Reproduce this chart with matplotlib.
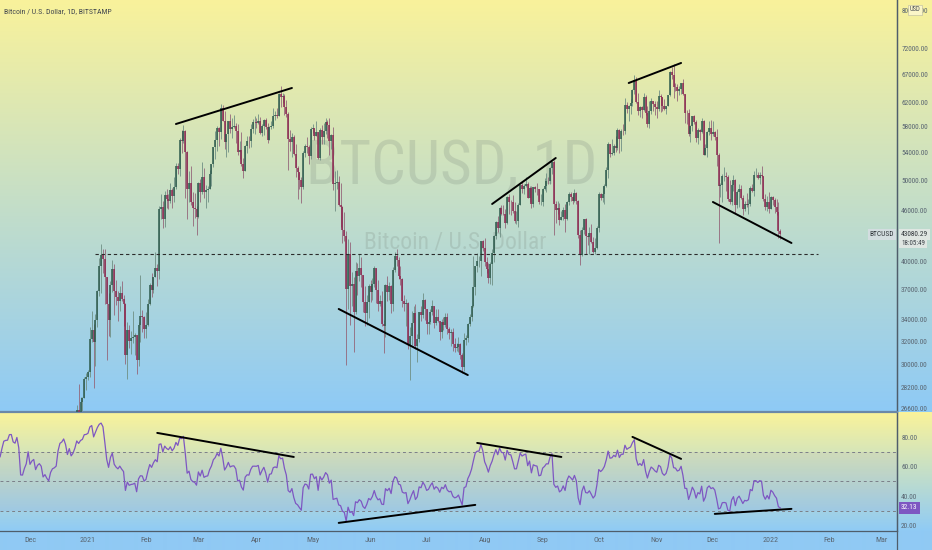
import numpy as np
import pandas as pd
import matplotlib
matplotlib.use('Agg')
import matplotlib.pyplot as plt
import matplotlib.dates as mdates
from matplotlib import font_manager
from matplotlib.colors import to_rgb

# daily closes in USD thousands, 2020-10-15 .. 2022-01-06
close_k = [
    # Oct 2020 (15th on)
    11.50, 11.32, 11.36, 11.50, 11.75, 11.92, 12.82, 12.98, 12.93, 13.11, 13.03, 13.07, 13.65, 13.28, 13.46, 13.56, 13.80,
    # Nov 2020
    13.76, 13.55, 14.02, 14.15, 15.59, 15.58, 14.84, 15.48, 15.33, 15.31, 15.70, 16.28, 16.32, 16.07, 15.96,
    16.73, 17.66, 17.78, 17.81, 18.68, 18.71, 18.42, 18.37, 19.16, 18.72, 17.15, 17.14, 17.72, 18.18, 19.70,
    # Dec 2020
    18.79, 19.22, 19.43, 18.65, 19.15, 19.36, 19.17, 18.32, 18.55, 18.25, 18.04, 18.80, 19.17, 19.27, 19.44,
    21.38, 22.83, 23.13, 23.86, 23.48, 22.74, 23.83, 23.24, 23.73, 24.71, 26.49, 26.28, 27.08, 27.39, 28.88, 28.99,
    # Jan 2021
    29.37, 32.19, 33.00, 31.99, 33.99, 36.82, 39.48, 40.67, 40.24, 38.24, 35.54, 34.01, 37.39, 39.15, 36.83,
    36.18, 35.79, 36.63, 36.02, 35.53, 30.83, 33.00, 32.08, 32.28, 32.37, 32.57, 30.43, 33.46, 34.32, 34.27, 33.11,
    # Feb 2021
    33.52, 35.51, 37.47, 36.92, 38.29, 39.26, 38.90, 46.20, 46.48, 44.92, 47.97, 47.50, 47.27, 48.68,
    47.95, 49.15, 52.12, 51.59, 55.90, 55.84, 57.41, 54.09, 48.89, 49.68, 47.06, 46.34, 46.16, 45.24,
    # Mar 2021
    49.61, 48.38, 50.54, 48.37, 48.75, 48.88, 50.97, 52.38, 54.88, 55.87, 57.80, 57.23, 61.19, 59.01, 55.61,
    56.90, 58.91, 57.65, 58.03, 58.10, 57.35, 54.08, 54.34, 52.30, 51.30, 55.07, 55.86, 55.78, 57.63, 58.73, 58.74,
    # Apr 2021
    58.72, 58.97, 57.06, 58.20, 59.13, 57.99, 56.00, 57.97, 58.10, 59.77, 59.98, 59.84, 63.50, 62.96, 63.20,
    61.38, 60.05, 56.15, 55.66, 56.47, 53.80, 51.70, 51.18, 50.10, 49.06, 54.02, 55.03, 54.82, 53.57, 57.75,
    # May 2021
    57.82, 56.61, 57.20, 53.24, 57.48, 56.40, 57.35, 58.87, 58.28, 55.86, 56.75, 49.50, 49.69, 49.84, 46.76,
    46.43, 43.54, 42.91, 37.00, 40.74, 37.28, 37.53, 34.77, 38.87, 38.35, 39.28, 38.49, 35.69, 34.61, 35.68, 37.30,
    # Jun 2021
    36.69, 37.57, 39.19, 36.88, 35.53, 35.80, 33.55, 33.40, 37.39, 36.69, 37.34, 35.55, 39.02, 40.53, 40.14,
    38.35, 38.09, 35.82, 35.48, 35.60, 31.68, 32.51, 33.69, 34.66, 31.61, 32.24, 34.70, 34.45, 35.87, 35.04,
    # Jul 2021
    33.57, 33.80, 34.68, 35.29, 33.69, 34.22, 33.86, 32.88, 33.82, 33.52, 34.24, 33.12, 32.73, 32.82, 31.78,
    31.42, 31.52, 31.78, 30.84, 29.79, 32.14, 32.29, 33.60, 34.29, 35.35, 37.27, 39.46, 40.02, 40.03, 42.23, 41.46,
    # Aug 2021
    39.85, 39.15, 38.19, 39.72, 40.87, 42.83, 44.61, 43.82, 46.29, 45.60, 45.56, 44.43, 47.82, 47.10, 47.05,
    45.99, 44.69, 44.71, 46.76, 49.34, 48.87, 49.28, 49.51, 47.70, 48.97, 46.84, 49.07, 48.90, 48.83, 47.05, 47.17,
    # Sep 2021
    48.85, 49.28, 49.94, 49.92, 51.77, 52.66, 46.87, 46.08, 46.37, 44.85, 45.16, 46.06, 44.96, 47.10, 48.14,
    47.76, 47.30, 48.30, 47.25, 42.96, 40.64, 43.59, 44.88, 42.84, 42.72, 43.21, 42.19, 41.03, 41.52, 43.80,
    # Oct 2021
    48.14, 47.65, 48.23, 49.25, 51.50, 55.34, 53.80, 53.95, 54.97, 54.70, 57.48, 56.03, 57.38, 57.37, 61.67,
    60.88, 61.53, 62.01, 64.28, 66.00, 62.21, 60.69, 61.30, 60.86, 63.08, 60.33, 58.46, 60.59, 62.27, 61.88, 61.32,
    # Nov 2021
    61.00, 63.23, 62.94, 61.45, 61.01, 61.53, 63.31, 67.55, 66.95, 64.88, 64.78, 64.15, 64.40, 65.48, 63.60,
    60.37, 60.32, 56.90, 58.12, 59.75, 58.73, 56.28, 57.54, 57.14, 58.96, 53.72, 54.74, 57.27, 57.81, 56.95,
    # Dec 2021
    57.18, 56.48, 53.60, 49.20, 49.40, 50.58, 50.64, 50.49, 47.56, 47.14, 49.37, 50.10, 46.72, 48.37, 48.88,
    47.64, 46.20, 46.85, 46.68, 46.90, 48.93, 48.61, 50.82, 50.82, 50.41, 50.80, 50.70, 47.54, 46.47, 47.12, 46.21,
    # Jan 2022
    47.74, 47.31, 46.46, 45.83, 43.43, 43.08,
]

# daily highs in USD thousands, 2020-12-20 .. 2022-01-06
high_k = [
    24.30, 24.10, 23.99, 24.10, 23.78, 24.79, 26.87, 28.42, 27.41, 27.41, 28.99, 29.30,
    29.60, 33.30, 34.78, 33.60, 34.50, 36.94, 40.37, 41.95, 41.36, 41.35, 38.26, 36.60, 37.85, 40.10, 39.70,
    37.90, 36.80, 37.30, 37.80, 36.40, 35.60, 33.80, 33.50, 32.95, 34.80, 32.79, 32.57, 33.80, 38.50, 34.90, 34.34,
    34.70, 35.98, 37.66, 38.70, 38.31, 40.96, 39.70, 46.60, 48.20, 47.30, 48.60, 48.90, 48.14, 49.70,
    49.00, 50.50, 52.50, 52.50, 56.30, 57.50, 58.35, 57.50, 54.20, 51.36, 52.00, 48.40, 48.30, 46.60,
    49.80, 50.20, 52.60, 51.80, 49.40, 49.20, 51.45, 52.40, 54.90, 57.40, 58.10, 58.00, 61.78, 61.70, 60.60,
    56.90, 58.97, 60.10, 59.45, 59.90, 58.60, 58.40, 55.80, 57.20, 53.20, 55.10, 56.60, 56.50, 58.40, 59.30, 59.80,
    59.50, 60.10, 59.70, 58.50, 59.25, 59.40, 58.60, 58.20, 58.90, 61.20, 60.70, 61.20, 63.80, 64.90, 63.80,
    63.50, 62.50, 60.40, 57.50, 57.00, 56.70, 55.40, 52.10, 51.20, 50.50, 54.30, 55.40, 56.40, 55.20, 57.95,
    58.50, 57.90, 58.90, 57.20, 57.90, 58.30, 58.60, 59.50, 59.20, 59.50, 56.90, 58.00, 51.40, 51.50, 50.60,
    49.70, 46.60, 45.80, 43.50, 42.50, 42.20, 38.80, 38.30, 39.90, 39.80, 40.80, 40.40, 38.20, 37.30, 36.40, 37.50,
    37.90, 38.20, 39.40, 39.20, 37.90, 36.40, 36.80, 34.00, 37.50, 38.40, 37.70, 37.40, 39.30, 41.00, 41.30,
    40.50, 39.50, 38.20, 36.40, 36.00, 35.70, 33.30, 34.80, 35.30, 35.50, 32.70, 34.70, 35.30, 36.60, 36.00,
    35.00, 33.90, 35.00, 35.90, 35.30, 35.00, 35.00, 33.90, 34.10, 34.25, 34.60, 34.60, 33.30, 33.10, 33.20,
    32.30, 31.90, 32.40, 31.90, 31.00, 32.80, 32.60, 33.65, 34.50, 35.40, 40.55, 39.50, 40.90, 40.60, 42.30, 42.40,
    42.60, 40.40, 39.75, 39.90, 41.40, 43.00, 44.70, 45.30, 46.45, 46.70, 46.75, 46.20, 47.90, 48.10, 47.40,
    48.00, 47.10, 46.00, 47.00, 49.40, 49.80, 49.50, 50.50, 49.80, 49.20, 49.30, 49.15, 49.30, 49.60, 48.90, 48.20,
    49.00, 50.40, 51.00, 50.50, 51.90, 52.80, 52.90, 47.30, 47.30, 47.00, 45.90, 46.40, 46.80, 47.20, 48.40,
    48.50, 48.10, 48.80, 48.40, 47.40, 43.60, 44.00, 44.95, 45.10, 42.95, 43.90, 44.30, 42.70, 42.60, 44.10,
    48.40, 48.30, 49.20, 49.50, 51.90, 55.70, 55.30, 56.10, 55.40, 56.50, 57.80, 57.70, 57.60, 58.50, 62.90,
    62.20, 61.70, 62.60, 64.40, 67.00, 66.60, 63.70, 61.50, 61.50, 63.70, 63.30, 61.50, 62.40, 62.90, 62.30, 62.40,
    62.40, 64.20, 63.50, 63.10, 62.60, 61.55, 63.30, 67.80, 68.50, 69.00, 65.50, 65.40, 64.90, 65.50, 66.30,
    63.60, 60.80, 60.90, 58.30, 59.80, 60.00, 59.20, 57.80, 57.70, 59.40, 59.20, 55.30, 57.40, 58.90, 59.20,
    59.00, 57.40, 57.60, 53.90, 49.70, 50.90, 51.90, 51.20, 50.80, 50.10, 49.50, 50.80, 50.20, 48.70, 49.50,
    49.40, 48.00, 47.30, 48.30, 47.50, 49.30, 49.55, 51.40, 51.80, 51.20, 51.25, 52.10, 50.70, 48.10, 47.90, 48.50,
    47.90, 47.95, 47.60, 47.50, 47.05, 43.70,
]

# daily lows in USD thousands, 2020-12-20 .. 2022-01-06
low_k = [
    23.07, 21.90, 22.37, 22.65, 22.70, 23.43, 24.50, 25.82, 26.10, 25.88, 27.34, 28.00,
    28.80, 29.00, 32.00, 28.13, 29.90, 33.30, 36.30, 36.60, 38.72, 35.54, 30.42, 32.53, 32.38, 36.70, 34.40,
    35.40, 33.85, 34.80, 35.80, 33.40, 30.07, 28.85, 31.40, 30.95, 31.90, 30.84, 29.24, 29.90, 31.95, 32.90, 32.30,
    32.30, 33.42, 35.36, 36.16, 36.57, 38.22, 37.37, 38.06, 45.00, 43.80, 44.00, 46.30, 46.20, 47.00,
    46.30, 47.10, 48.90, 50.95, 50.70, 53.90, 55.50, 47.60, 45.00, 47.10, 46.70, 44.10, 45.10, 43.00,
    45.10, 47.10, 48.10, 47.60, 46.30, 47.10, 48.90, 49.30, 51.85, 53.10, 54.30, 55.00, 56.10, 59.00, 54.60,
    53.40, 54.15, 57.00, 56.30, 57.80, 55.50, 53.70, 53.00, 52.10, 50.40, 51.30, 53.95, 54.70, 54.90, 57.00, 56.90,
    57.90, 58.50, 56.90, 56.50, 56.80, 57.60, 55.50, 55.90, 57.70, 57.90, 59.10, 59.40, 59.80, 61.30, 62.00,
    60.00, 59.60, 51.50, 54.20, 53.40, 53.60, 50.50, 47.50, 48.90, 47.00, 48.80, 53.30, 53.90, 52.40, 53.10,
    57.10, 56.00, 56.50, 53.10, 52.90, 55.30, 55.30, 56.90, 56.30, 53.60, 54.50, 48.70, 46.00, 48.90, 46.60,
    43.90, 42.10, 42.30, 30.00, 35.00, 33.50, 35.30, 31.10, 34.50, 36.40, 37.80, 37.20, 34.70, 33.40, 33.50, 34.20,
    35.70, 35.90, 37.20, 35.60, 34.80, 35.30, 33.40, 31.00, 32.40, 35.80, 35.90, 34.60, 34.80, 38.80, 39.50,
    38.10, 37.40, 35.20, 34.80, 33.40, 31.30, 28.80, 31.70, 32.30, 31.30, 30.20, 32.00, 33.90, 34.20, 34.00,
    32.70, 32.70, 33.60, 34.40, 33.20, 33.50, 33.80, 32.10, 32.30, 33.00, 33.30, 32.70, 32.20, 31.60, 31.20,
    31.05, 31.20, 31.10, 30.50, 29.30, 29.50, 31.70, 32.00, 33.40, 33.90, 35.20, 36.40, 38.80, 39.30, 38.40, 41.10,
    39.50, 38.70, 37.60, 37.50, 37.40, 39.90, 42.50, 43.30, 42.80, 45.40, 45.40, 43.80, 44.30, 45.60, 45.50,
    45.70, 44.40, 44.30, 43.90, 46.70, 48.30, 48.10, 49.10, 47.60, 47.10, 46.30, 46.40, 48.40, 48.00, 46.90, 46.70,
    46.60, 48.70, 48.40, 49.50, 49.50, 50.95, 43.00, 44.50, 45.60, 44.20, 44.80, 44.80, 43.40, 44.80, 46.70,
    47.20, 46.80, 47.10, 46.90, 42.60, 39.60, 40.60, 43.10, 40.80, 41.80, 40.80, 42.10, 40.90, 40.80, 41.40,
    43.30, 47.40, 47.10, 46.90, 49.10, 50.40, 53.40, 53.60, 53.70, 54.10, 54.40, 53.90, 54.30, 56.80, 56.90,
    60.30, 58.90, 60.10, 61.40, 63.50, 62.00, 60.00, 59.70, 59.50, 60.70, 59.90, 58.00, 57.90, 60.20, 60.70, 60.00,
    59.50, 60.70, 60.40, 60.70, 60.80, 60.10, 61.40, 63.20, 66.30, 62.80, 64.10, 62.30, 63.30, 63.60, 63.40,
    58.60, 58.40, 56.50, 55.60, 57.40, 58.50, 55.60, 55.30, 55.90, 57.00, 53.60, 53.60, 53.30, 56.70, 56.00,
    56.50, 55.90, 52.00, 42.00, 47.80, 47.10, 50.00, 48.60, 47.30, 46.90, 46.70, 48.60, 45.70, 46.30, 46.50,
    47.50, 45.50, 45.90, 46.40, 45.60, 46.60, 48.40, 47.90, 50.50, 50.20, 49.50, 50.50, 47.30, 46.10, 45.90, 45.70,
    46.20, 46.70, 45.70, 45.50, 42.60, 42.50,
]

last_day = '2022-01-06'
last_price = 43080.29
countdown = '18:05:49'
rsi_last = 32.13
rsi_len = 14

price_ticks = [26600, 28200, 30000, 32000, 34000, 37000, 40000, 46000,
               50000, 54000, 58000, 62000, 67000, 72000, 80000]
rsi_ticks = [20, 40, 60, 80]
rsi_bands = [70, 50, 30]
month_ticks = pd.date_range('2020-12-01', '2022-03-01', freq='MS')
month_labels = ['Dec', '2021', 'Feb', 'Mar', 'Apr', 'May', 'Jun', 'Jul', 'Aug',
                'Sep', 'Oct', 'Nov', 'Dec', '2022', 'Feb', 'Mar']

support_level = 40780
support_span = ('2021-01-05', '2022-01-26')

price_lines = [
    (('2021-02-17', 58480), ('2021-04-20', 64620)),
    (('2021-05-15', 35020), ('2021-07-23', 29160)),
    (('2021-08-05', 46850), ('2021-09-08', 53220)),
    (('2021-10-17', 65520), ('2021-11-14', 69260)),
    (('2021-12-01', 47110), ('2022-01-12', 42050)),
]
rsi_lines = [
    (('2021-02-07', 82.9), ('2021-04-21', 66.6)),
    (('2021-05-15', 21.9), ('2021-07-27', 34.1)),
    (('2021-07-28', 76.1), ('2021-09-11', 66.6)),
    (('2021-10-19', 80.2), ('2021-11-14', 65.3)),
    (('2021-12-02', 28.0), ('2022-01-12', 31.4)),
]

# ---- fonts ----
avail = {f.name for f in font_manager.fontManager.ttflist}
narrow = next((f for f in ['Liberation Sans Narrow', 'Roboto Condensed', 'Open Sans Condensed']
               if f in avail), 'DejaVu Sans')
plt.rcParams['font.family'] = [narrow, 'DejaVu Sans']

# ---- prepare candles ----
close = np.array(close_k) * 1000
close[-1] = last_price
dates = pd.date_range(end=last_day, periods=len(close))
n = min(len(high_k), len(low_k), len(close) - 1)
hi = np.array(high_k[-n:]) * 1000
lo = np.array(low_k[-n:]) * 1000
c = close[-n:]
o = close[-n - 1:-1]
hi = np.maximum(hi, np.maximum(o, c))
lo = np.minimum(lo, np.minimum(o, c))
xd = mdates.date2num(dates[-n:].to_pydatetime())
up = c >= o

# RSI (Wilder)
delta = pd.Series(close).diff()
gain = delta.clip(lower=0).ewm(alpha=1 / rsi_len, adjust=False).mean()
loss = (-delta.clip(upper=0)).ewm(alpha=1 / rsi_len, adjust=False).mean()
rsi = (100 - 100 / (1 + gain / loss)).values
xall = mdates.date2num(dates.to_pydatetime())

def dnum(s):
    return mdates.date2num(pd.Timestamp(s).to_pydatetime())

W, H = 932, 550
fig = plt.figure(figsize=(W / 100, H / 100), dpi=100)

# background gradients
def grad(a, b, k):
    a = np.array(to_rgb(a)); b = np.array(to_rgb(b))
    t = np.linspace(0, 1, k)[:, None]
    return a * (1 - t) + b * t

rows = np.vstack([grad('#f9f29b', '#8ecaf6', 412),
                  grad('#faf39a', '#90cbf5', 119),
                  np.tile(to_rgb('#90c9f4'), (19, 1))])
bg = fig.add_axes([0, 0, 1, 1], zorder=-5)
bg.imshow(rows[:, None, :], aspect='auto', extent=[0, 1, 0, 1], interpolation='bilinear')
bg.set_xlim(0, 1); bg.set_ylim(0, 1)
bg.set_axis_off()
bg.axvline(897 / W, color='#4f5d6b', lw=0.9)

x0 = dnum('2021-01-01') - 47.03
x1 = dnum('2021-01-01') + 432.4
axc = '#4f5d6b'
tc = '#5a6672'

# ---- price panel ----
ax = fig.add_axes([0, 138 / H, 897 / W, 412 / H])
ax.set_facecolor('none')
ax.set_yscale('log')
ax.set_xlim(x0, x1)
ax.set_ylim(26320, 82470)

upw, dnw = '#6f8f84', '#94667a'
upb, dnb = '#2d5a4c', '#8c2850'
ax.vlines(xd, lo, hi, colors=np.where(up, upw, dnw), lw=0.6, zorder=2)
ax.vlines(xd, np.minimum(o, c), np.maximum(o, c), colors=np.where(up, upb, dnb), lw=1.1, zorder=3)

ax.hlines(support_level, dnum(support_span[0]), dnum(support_span[1]),
          colors='#2b2b2b', lw=0.8, linestyles=(0, (3, 2.5)), zorder=4)
for (d0, p0), (d1, p1) in price_lines:
    ax.plot([dnum(d0), dnum(d1)], [p0, p1], color='black', lw=1.4, solid_capstyle='round', zorder=5)

ax.text(0.504, 0.595, 'BTCUSD, 1D', transform=ax.transAxes, ha='center', va='center',
        fontsize=44, color='#7d8a80', alpha=0.24, zorder=1)
ax.text(0.507, 0.412, 'Bitcoin / U.S. Dollar', transform=ax.transAxes, ha='center', va='center',
        fontsize=17, color='#7d8a80', alpha=0.24, zorder=1)
ax.text(4 / 897, 1 - 11 / 412, 'Bitcoin / U.S. Dollar, 1D, BITSTAMP', transform=ax.transAxes,
        ha='left', va='center', fontsize=5.6, color='#454a50')

ax.yaxis.tick_right()
ax.set_yticks(price_ticks)
ax.set_yticklabels([f'{t:.2f}' for t in price_ticks])
ax.yaxis.set_minor_locator(matplotlib.ticker.NullLocator())
ax.tick_params(axis='y', length=0, pad=3, labelsize=5.3, labelcolor=tc)
ax.tick_params(axis='x', length=0, labelbottom=False)
for s in ['top', 'left']:
    ax.spines[s].set_visible(False)
ax.spines['right'].set_color(axc); ax.spines['right'].set_linewidth(0.9)
ax.spines['bottom'].set_color('#6b88a8'); ax.spines['bottom'].set_linewidth(1.6)

# last price labels
ax.annotate(f'{last_price:.2f}', xy=(1.0, last_price), xycoords=('axes fraction', 'data'),
            xytext=(3, 0), textcoords='offset points', ha='left', va='center',
            fontsize=5.3, color='#2f3439',
            bbox=dict(boxstyle='square,pad=0.25', fc='#dfe6e2', ec='none'))
ax.annotate(countdown, xy=(1.0, last_price), xycoords=('axes fraction', 'data'),
            xytext=(3, -6.3), textcoords='offset points', ha='left', va='center',
            fontsize=5.0, color='#3a4046',
            bbox=dict(boxstyle='square,pad=0.25', fc='#dfe6e2', ec='none'))
ax.annotate('BTCUSD', xy=(1.0, last_price), xycoords=('axes fraction', 'data'),
            xytext=(-2, 0), textcoords='offset points', ha='right', va='center',
            fontsize=5.3, color='#2f3439',
            bbox=dict(boxstyle='square,pad=0.3', fc='#d3dde0', ec='none'))
ax.annotate('USD', xy=(1.0, 1.0), xycoords='axes fraction',
            xytext=(13, -7), textcoords='offset points', ha='center', va='center',
            fontsize=4.8, color='#4a4f55', zorder=10,
            bbox=dict(boxstyle='square,pad=0.2', fc='#fbf6c8', ec='#b9b9a0', lw=0.4))

# ---- RSI panel ----
rx = fig.add_axes([0, 19 / H, 897 / W, 118 / H])
rx.set_facecolor('none')
rx.set_xlim(x0, x1)
rx.set_ylim(16.4, 96.4)
rx.axhspan(30, 70, color='#7e57c2', alpha=0.07, lw=0)
for b in rsi_bands:
    rx.axhline(b, color='#7b7f88', lw=0.7, ls=(0, (3, 3)))
rx.plot(xall[14:], rsi[14:], color='#7e57c2', lw=0.9)
for (d0, v0), (d1, v1) in rsi_lines:
    rx.plot([dnum(d0), dnum(d1)], [v0, v1], color='black', lw=1.4, solid_capstyle='round')

rx.yaxis.tick_right()
rx.set_yticks(rsi_ticks)
rx.set_yticklabels([f'{t:.2f}' for t in rsi_ticks])
rx.tick_params(axis='y', length=0, pad=3, labelsize=5.3, labelcolor=tc)
rx.set_xticks(mdates.date2num(month_ticks.to_pydatetime()))
rx.set_xticklabels(month_labels)
rx.tick_params(axis='x', length=0, pad=4.5, labelsize=5.8, labelcolor=tc)
for s in ['top', 'left']:
    rx.spines[s].set_visible(False)
rx.spines['right'].set_color(axc); rx.spines['right'].set_linewidth(0.9)
rx.spines['bottom'].set_color(axc); rx.spines['bottom'].set_linewidth(0.9)

rx.annotate(f'{rsi_last:.2f}', xy=(1.0, rsi_last), xycoords=('axes fraction', 'data'),
            xytext=(3, 0), textcoords='offset points', ha='left', va='center',
            fontsize=5.3, color='white',
            bbox=dict(boxstyle='square,pad=0.3', fc='#7e57c2', ec='none'))

fig.savefig('out.png', dpi=100)
